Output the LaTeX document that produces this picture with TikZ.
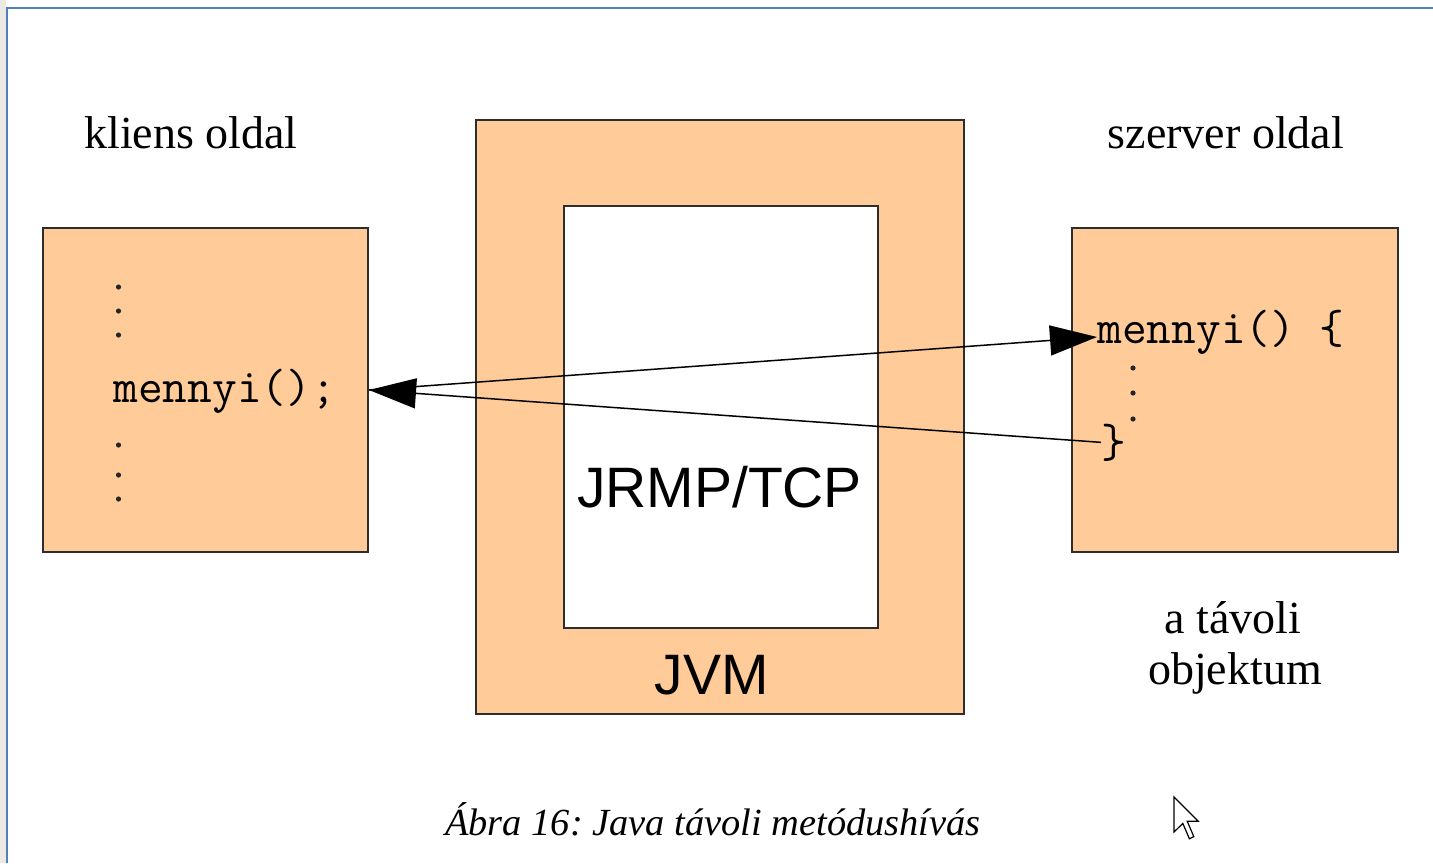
\documentclass[tikz,border=0pt]{standalone}
\usepackage{fontspec}
\setmainfont{Liberation Serif}
\setsansfont{Liberation Sans}
\usetikzlibrary{arrows.meta,calc}

\definecolor{peach}{RGB}{255,204,153}
\definecolor{edge}{RGB}{45,45,45}
\definecolor{frameblue}{RGB}{79,129,189}
\definecolor{strip}{RGB}{236,233,228}

\tikzset{
  box/.style={draw=edge, line width=1pt, fill=peach, inner sep=0pt},
  hole/.style={draw=edge, line width=1pt, fill=white, inner sep=0pt},
  lbl/.style={font=\fontsize{23pt}{27pt}\selectfont, inner sep=0pt},
  big/.style={font=\sffamily\fontsize{28.5pt}{33pt}\selectfont, inner sep=0pt},
  code/.style={font=\ttfamily\fontsize{24pt}{27pt}\selectfont, inner sep=0pt},
  capt/.style={font=\itshape\fontsize{19.2pt}{23pt}\selectfont, inner sep=0pt},
  conn/.style={draw=black, line width=0.75pt,
    -{Triangle[length=23.5pt,width=15pt]}},
  ellipsisdot/.style={fill=black!85},
}

\begin{document}
\frenchspacing
\begin{tikzpicture}[x=0.5pt,y=-0.5pt]
\useasboundingbox (0,0) rectangle (1433,863);

% page backdrop and window frame
\fill[white] (0,0) rectangle (1433,863);
\fill[strip] (0,0) rectangle (6,863);
\draw[frameblue, line width=1pt] (7,863) -- (7,8) -- (1433,8);

% boxes
\node[box, minimum width=162.5pt, minimum height=162pt] (client) at (205.5,390) {};
\node[box, minimum width=244pt, minimum height=297pt] (jvm) at (720,417) {};
\node[hole, minimum width=157pt, minimum height=211pt] (net) at (721,417) {};
\node[box, minimum width=163pt, minimum height=162pt] (server) at (1235,390) {};

% headings and labels
\node[lbl, anchor=base] (kl) at (191,148) {kliens oldal};
\node[lbl, anchor=base] (sz) at (1226,148) {szerver oldal};
\node[lbl, anchor=base] (obj1) at (1233,633) {a távoli};
\node[lbl, anchor=base] (obj2) at (1235,684) {objektum};
\node[big, anchor=base] (proto) at (719.5,507) {JRMP/TCP};
\node[big, anchor=base] (vm) at (711.5,694) {JVM};
\node[capt, anchor=base] (cap) at (713,835) {Ábra 16: Java távoli metódushívás};

% client code: elided lines around the call
\foreach \yy in {287,311,335,445,475,499}
  \fill[ellipsisdot] (118.5,\yy) circle[radius=1.3pt];
\node[code, anchor=base west] (call) at (113,402) {mennyi();};

% server code: method body
\node[code, anchor=base west] (def) at (1097,343) {mennyi() \{};
\foreach \yy in {368,393,419}
  \fill[ellipsisdot] (1133,\yy) circle[radius=1.3pt];
\node[code, anchor=base west] (close) at (1101,457) {\}};

% call and return
\draw[conn] (client.east) -- ($(def.base west)+(0,-6)$);
\draw[conn] (close.west) -- (client.east);

% mouse pointer
\draw[black, line width=0.6pt, fill=white, line join=miter]
  (1174,797) -- (1174,832) -- (1182.8,823.4) -- (1189.4,838.8)
  -- (1193.8,836.6) -- (1187.2,821.2) -- (1198.2,821.2) -- cycle;
\end{tikzpicture}
\end{document}
